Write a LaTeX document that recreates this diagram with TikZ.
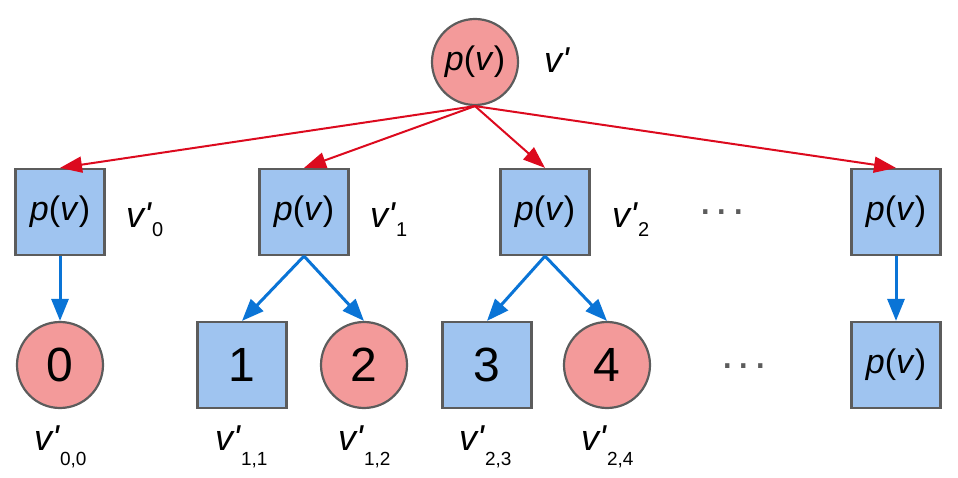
\documentclass[tikz,border=0pt]{standalone}
\usepackage{fontspec}
\setmainfont{Liberation Sans}
\usetikzlibrary{positioning,arrows.meta}
\definecolor{chancefill}{HTML}{F39A9A}
\definecolor{choicefill}{HTML}{9FC4F0}
\definecolor{nodeline}{HTML}{5C5C5C}
\definecolor{redline}{HTML}{DC0A1E}
\definecolor{blueline}{HTML}{0A74D6}
\newcommand{\pv}{\textit{p}(\textit{v})}
\newcommand{\vsub}[3]{\textit{v\textquotesingle}\raisebox{#1}{\fontsize{#2}{#2}\selectfont #3}}

\begin{document}
\begin{tikzpicture}[x=1pt,y=-1pt,
		chance/.style={circle,draw=nodeline,line width=2.2pt,fill=chancefill,minimum size=86pt,inner sep=0pt},
		choice/.style={rectangle,draw=nodeline,line width=2.2pt,fill=choicefill,minimum width=89pt,minimum height=86pt,inner sep=0pt},
		pvtext/.style={font=\fontsize{34}{34}\selectfont},
		numtext/.style={font=\fontsize{48}{48}\selectfont},
		vlab/.style={font=\fontsize{36}{36}\selectfont,inner sep=0pt},
		dotstext/.style={font=\fontsize{45}{45}\selectfont,text=nodeline,inner sep=0pt,anchor=base},
		redarrow/.style={draw=redline,line width=2pt,-{Triangle[length=22pt,width=16pt]}},
		bluearrow/.style={draw=blueline,line width=3pt,-{Triangle[length=22pt,width=17pt]}}]
	\useasboundingbox (0,0) rectangle (958,478);
	\node[chance,pvtext] (top) at (475,62) {\pv};
	\node[choice,pvtext] (d0) at (60,212) {\pv};
	\node[choice,pvtext] (d1) at (304,212) {\pv};
	\node[choice,pvtext] (d2) at (545,212) {\pv};
	\node[choice,pvtext] (d3) at (896,212) {\pv};
	\node[chance,numtext] (c0) at (60,365) {0};
	\node[choice,numtext] (s1) at (242,365) {1};
	\node[chance,numtext] (c2) at (364,365) {2};
	\node[choice,numtext] (s3) at (487,365) {3};
	\node[chance,numtext] (c4) at (607,365) {4};
	\node[choice,pvtext] (s5) at (896,365) {\pv};
	\node[vlab,anchor=base west] (ltop) at (544,73) {\textit{v\textquotesingle}};
	\node[vlab,anchor=base west] (ld0) at (126,228) {\vsub{-9pt}{20}{0}};
	\node[vlab,anchor=base west] (ld1) at (370,228) {\vsub{-9pt}{20}{1}};
	\node[vlab,anchor=base west] (ld2) at (612,228) {\vsub{-9pt}{20}{2}};
	\node[vlab,anchor=base west] (lc0) at (34,450) {\vsub{-15pt}{19}{0,0}};
	\node[vlab,anchor=base west] (ls1) at (215,450) {\vsub{-15pt}{19}{1,1}};
	\node[vlab,anchor=base west] (lc2) at (338,450) {\vsub{-15pt}{19}{1,2}};
	\node[vlab,anchor=base west] (ls3) at (459,450) {\vsub{-15pt}{19}{2,3}};
	\node[vlab,anchor=base west] (lc4) at (581,450) {\vsub{-15pt}{19}{2,4}};
	\node[dotstext] (dots1) at (722,215) {.\kern4pt.\kern4pt.};
	\node[dotstext] (dots2) at (744,368) {.\kern4pt.\kern4pt.};
	\draw[redarrow] (top.south) -- (d0.north);
	\draw[redarrow] (top.south) -- (d1.north);
	\draw[redarrow] (top.south) -- (d2.north);
	\draw[redarrow] (top.south) -- (d3.north);
	\draw[bluearrow] (d0.south) -- (c0.north);
	\draw[bluearrow] (d1.south) -- (s1.north);
	\draw[bluearrow] (d1.south) -- (c2.north);
	\draw[bluearrow] (d2.south) -- (s3.north);
	\draw[bluearrow] (d2.south) -- (c4.north);
	\draw[bluearrow] (d3.south) -- (s5.north);
\end{tikzpicture}
\end{document}
